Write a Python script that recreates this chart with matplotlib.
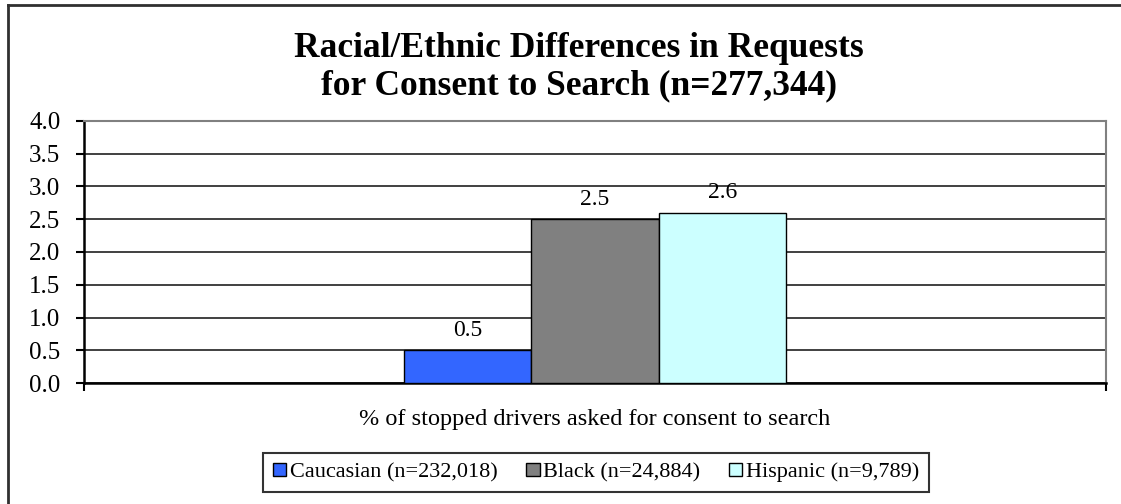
import matplotlib
matplotlib.use("Agg")
import matplotlib.pyplot as plt
from matplotlib.lines import Line2D
import numpy as np

# Data
groups = ["Caucasian (n=232,018)", "Black (n=24,884)", "Hispanic (n=9,789)"]
pct_asked = [0.5, 2.5, 2.6]
value_labels = ["0.5", "2.5", "2.6"]
bar_colors = ["#3366FF", "#808080", "#CCFFFF"]
y_ticks = [0.0, 0.5, 1.0, 1.5, 2.0, 2.5, 3.0, 3.5, 4.0]
title = "Racial/Ethnic Differences in Requests\nfor Consent to Search (n=277,344)"
x_title = "% of stopped drivers asked for consent to search"

plt.rcParams["font.family"] = ["Liberation Serif", "DejaVu Serif"]

W, H = 1121, 504
fig = plt.figure(figsize=(W / 100, H / 100), dpi=100)
fig.patch.set_facecolor("white")

# plot area in pixel coordinates
left, right, top, bottom = 84, 1106, 121, 383
ax = fig.add_axes([left / W, 1 - bottom / H, (right - left) / W, (bottom - top) / H])

bar_w = 0.1245
offsets = (np.arange(len(groups)) - (len(groups) - 1) / 2) * bar_w
for off, val, col, lab, txt in zip(offsets, pct_asked, bar_colors, groups, value_labels):
    ax.bar(off, val, width=bar_w, color=col, edgecolor="black", linewidth=1.0,
           label=lab, zorder=3)
    ax.annotate(txt, xy=(off, val), xytext=(0, 7), textcoords="offset points",
                ha="center", va="bottom", fontsize=17, zorder=4)

ax.set_xlim(-0.5, 0.5)
ax.set_ylim(0, 4.0)
ax.set_yticks(y_ticks)
ax.set_yticklabels([f"{t:.1f}" for t in y_ticks], fontsize=18)
ax.set_xticks([-0.5, 0.5])
ax.set_xticklabels([])
ax.tick_params(axis="both", direction="out", length=6, width=1.5, color="black")
ax.tick_params(axis="y", pad=11)

ax.yaxis.grid(True, color="#202020", linewidth=1.2, zorder=0)
ax.set_axisbelow(True)

for side in ("left", "bottom"):
    ax.spines[side].set_color("black")
    ax.spines[side].set_linewidth(1.8)
for side in ("top", "right"):
    ax.spines[side].set_color("#808080")
    ax.spines[side].set_linewidth(1.5)

fig.text(579 / W, 1 - 67 / H, title, ha="center", va="center",
         fontsize=25.5, fontweight="bold", linespacing=1.15)

fig.text(595 / W, 1 - 420 / H, x_title, ha="center", va="center", fontsize=17.5)

leg = fig.legend(loc="center", bbox_to_anchor=(596 / W, 1 - 472.5 / H), ncol=3,
                 fontsize=16, frameon=True, fancybox=False, handlelength=0.6,
                 handleheight=0.55, handletextpad=0.15, columnspacing=1.3,
                 borderpad=0.45)
leg.get_frame().set_edgecolor("black")
leg.get_frame().set_linewidth(1.5)

# chart border (left and top edges)
fig.add_artist(Line2D([8 / W, 8 / W], [0, 1 - 5 / H], transform=fig.transFigure,
                      color="#303030", linewidth=2))
fig.add_artist(Line2D([8 / W, 1], [1 - 5 / H, 1 - 5 / H], transform=fig.transFigure,
                      color="#303030", linewidth=2))

fig.savefig("out.png", dpi=100, facecolor="white")
